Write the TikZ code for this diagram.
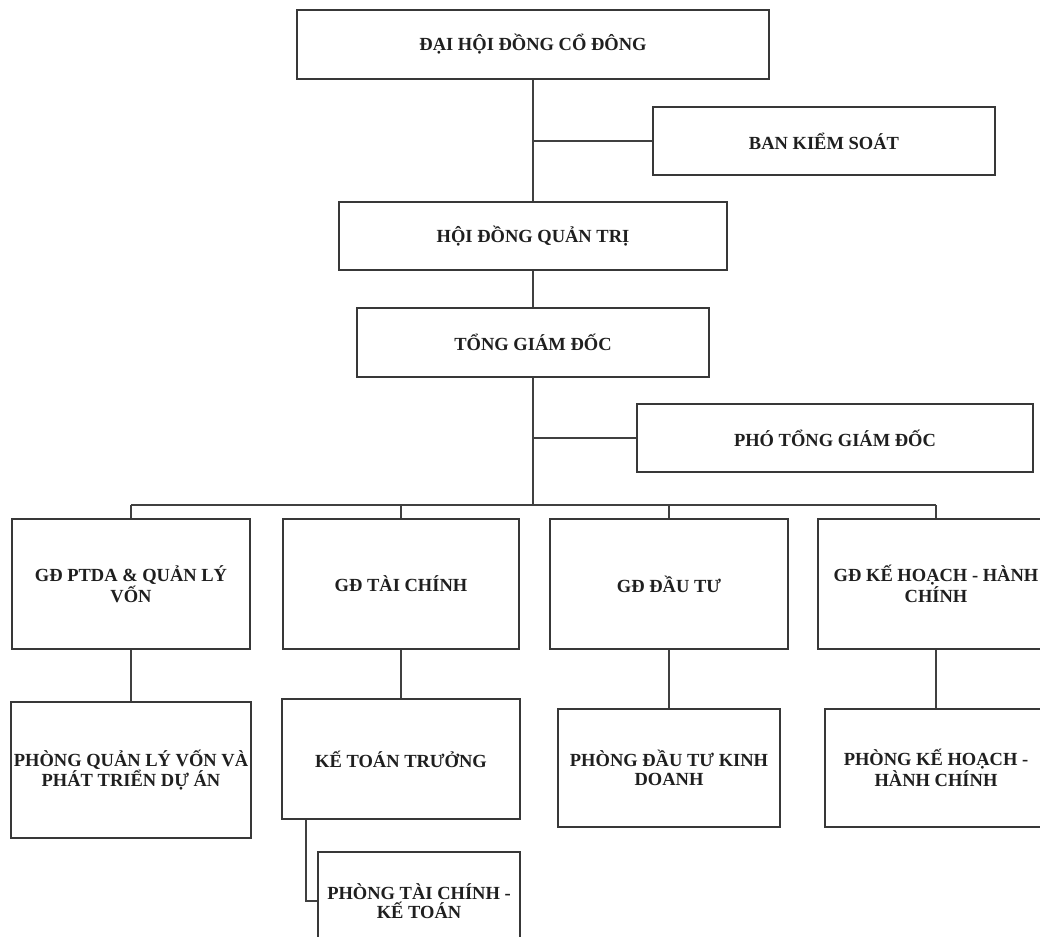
\documentclass[tikz,border=0pt]{standalone}
\usepackage{fontspec}
\setmainfont{Liberation Serif}
\begin{document}
\begin{tikzpicture}[x=1pt,y=-1pt,
  box/.style={draw=black!78,line width=1.8pt,rectangle,inner sep=0pt,align=center,
    font=\bfseries\fontsize{18.5}{19}\selectfont,text=black!88},
  link/.style={draw=black!75,line width=1.8pt}]
\fill[white] (0,0) rectangle (1040,936);
\useasboundingbox (0,0) rectangle (1040,936);
\clip (0,0) rectangle (1040,936);
% top chain
\node[box,minimum width=472pt,minimum height=69pt] (dh) at (533,44.5) {ĐẠI HỘI ĐỒNG CỔ ĐÔNG};
\node[box,minimum width=342pt,minimum height=68pt] (bks) at (824,141) {BAN KIỂM SOÁT};
\node[box,minimum width=388pt,minimum height=68pt] (hdqt) at (533,236) {HỘI ĐỒNG QUẢN TRỊ};
\node[box,minimum width=352pt,minimum height=69pt] (tgd) at (533,342.5) {TỔNG GIÁM ĐỐC};
\node[box,minimum width=396pt,minimum height=68pt] (ptgd) at (835,438) {PHÓ TỔNG GIÁM ĐỐC};
% directors
\node[box,minimum width=238pt,minimum height=130pt] (gdA) at (131,584) {GĐ PTDA \& QUẢN LÝ\\VỐN};
\node[box,minimum width=236pt,minimum height=130pt] (gdB) at (401,584) {GĐ TÀI CHÍNH};
\node[box,minimum width=238pt,minimum height=130pt] (gdC) at (669,584) {GĐ ĐẦU TƯ};
\node[box,minimum width=236pt,minimum height=130pt] (gdD) at (936,584) {GĐ KẾ HOẠCH - HÀNH\\CHÍNH};
% departments
\node[box,minimum width=240pt,minimum height=136pt] (pA) at (131,770) {PHÒNG QUẢN LÝ VỐN VÀ\\PHÁT TRIỂN DỰ ÁN};
\node[box,minimum width=238pt,minimum height=120pt] (ktt) at (401,759) {KẾ TOÁN TRƯỞNG};
\node[box,minimum width=202pt,minimum height=98pt] (ptc) at (419,901) {PHÒNG TÀI CHÍNH -\\KẾ TOÁN};
\node[box,minimum width=222pt,minimum height=118pt] (pC) at (669,768) {PHÒNG ĐẦU TƯ KINH\\DOANH};
\node[box,minimum width=222pt,minimum height=118pt] (pD) at (936,768) {PHÒNG KẾ HOẠCH -\\HÀNH CHÍNH};
% connectors
\coordinate (bus) at (533,505);
\draw[link] (dh.south) -- (hdqt.north);
\draw[link] (dh.south |- bks.west) -- (bks.west);
\draw[link] (hdqt.south) -- (tgd.north);
\draw[link] (tgd.south) -- (bus);
\draw[link] (tgd.south |- ptgd.west) -- (ptgd.west);
\draw[link] (gdA.north |- bus) -- (gdD.north |- bus);
\foreach \n in {gdA,gdB,gdC,gdD}{\draw[link] (\n.north) -- (\n.north |- bus);}
\draw[link] (gdA.south) -- (pA.north);
\draw[link] (gdB.south) -- (ktt.north);
\draw[link] (gdC.south) -- (pC.north);
\draw[link] (gdD.south) -- (pD.north);
\draw[link] ([xshift=25pt]ktt.south west) |- (ptc.west);
\end{tikzpicture}
\end{document}
